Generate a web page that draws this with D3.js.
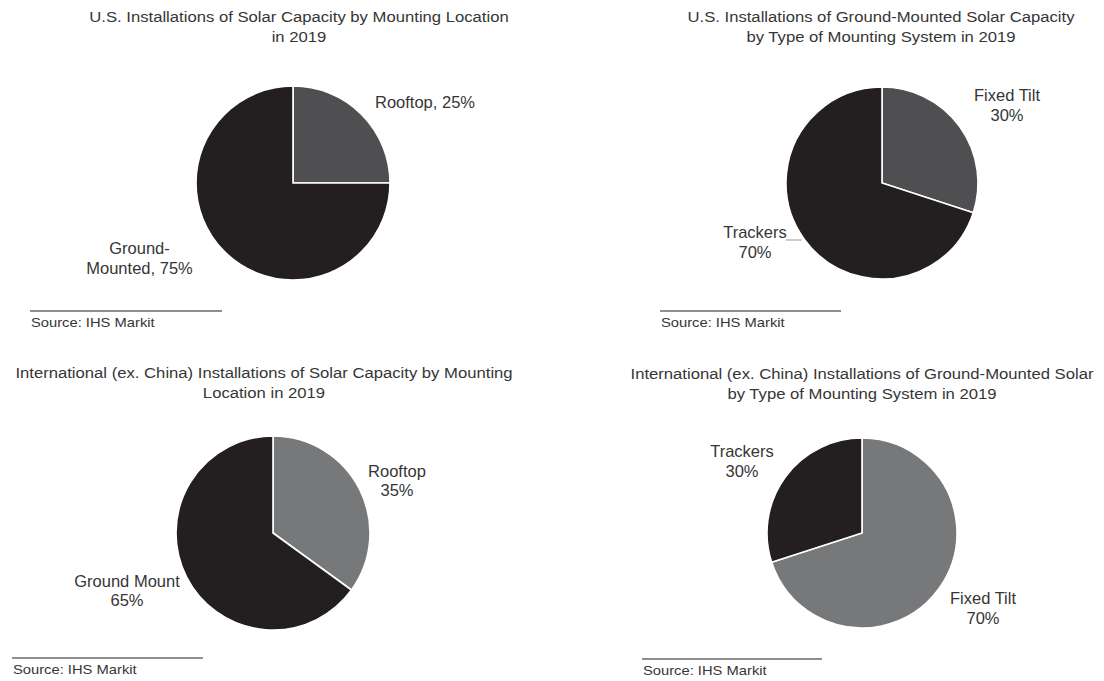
<!DOCTYPE html>
<html>
<head>
<meta charset="utf-8">
<script src="https://cdn.jsdelivr.net/npm/d3@7"></script>
<style>
  body { margin: 0; background: #fff; }
  svg text { font-family: "Liberation Sans", Arial, Helvetica, sans-serif; fill: #363636; }
</style>
</head>
<body>
<div class="graphics"></div>
<script>
// datos de cada pastel
var usLocTitle = ["U.S. Installations of Solar Capacity by Mounting Location", "in 2019"];
var usLocCategories = ["Rooftop", "Ground-\nMounted"];
var usLocValues = [25, 75];

var usTypeTitle = ["U.S. Installations of Ground-Mounted Solar Capacity", "by Type of Mounting System in 2019"];
var usTypeCategories = ["Fixed Tilt", "Trackers"];
var usTypeValues = [30, 70];

var intlLocTitle = ["International (ex. China) Installations of Solar Capacity by Mounting", "Location in 2019"];
var intlLocCategories = ["Rooftop", "Ground Mount"];
var intlLocValues = [35, 65];

var intlTypeTitle = ["International (ex. China) Installations of Ground-Mounted Solar", "by Type of Mounting System in 2019"];
var intlTypeCategories = ["Fixed Tilt", "Trackers"];
var intlTypeValues = [70, 30];

var sourceText = "Source: IHS Markit";

var w = 1104, h = 681;
var black = "#231f20", dark = "#4f4f51", light = "#77787a";

// layout de cada panel (posiciones, no datos)
var panels = [
  {title: usLocTitle, cats: usLocCategories, vals: usLocValues,
   colors: [dark, black], cx: 293, cy: 183, r: 97, titleX: 299, titleY: 21.5,
   fmt: function(c, v){ return (c + ", " + v + "%").split("\n"); },
   labels: [[132, -75.5], [-153.5, 71]], lineGap: 20,
   srcX1: 30, srcX2: 222, srcY: 311},
  {title: usTypeTitle, cats: usTypeCategories, vals: usTypeValues,
   colors: [dark, black], cx: 882, cy: 183, r: 96, titleX: 881, titleY: 21.5,
   fmt: function(c, v){ return [c, v + "%"]; },
   labels: [[125, -82], [-127, 55]], lineGap: 20, leader: 1,
   srcX1: 660, srcX2: 841, srcY: 311},
  {title: intlLocTitle, cats: intlLocCategories, vals: intlLocValues,
   colors: [light, black], cx: 273, cy: 533, r: 97, titleX: 264, titleY: 377.5,
   fmt: function(c, v){ return [c, v + "%"]; },
   labels: [[124, -56], [-146, 54]], lineGap: 19,
   srcX1: 12, srcX2: 203, srcY: 658},
  {title: intlTypeTitle, cats: intlTypeCategories, vals: intlTypeValues,
   colors: [light, black], cx: 862, cy: 533, r: 95, titleX: 862, titleY: 379,
   fmt: function(c, v){ return [c, v + "%"]; },
   labels: [[121, 71], [-120, -76]], lineGap: 20,
   srcX1: 642, srcX2: 822, srcY: 659}
];

var svg = d3.select(".graphics")
  .append("svg")
  .attr("width", w)
  .attr("height", h);

// texto con un poco de estiramiento horizontal como en el original
function stretchedText(g, x, y, txt, size, sx, anchor){
  return g.append("text")
    .attr("transform", "translate(" + x + "," + y + ") scale(" + sx + ",1)")
    .attr("text-anchor", anchor || "middle")
    .style("font-size", size + "px")
    .text(txt);
}

var pie = d3.pie().sort(null).value(function(d){ return d.value; });

panels.forEach(function(p){
  var g = svg.append("g");

  p.title.forEach(function(t, i){
    stretchedText(g, p.titleX, p.titleY + i * 20, t, 14.5, 1.15);
  });

  var data = p.cats.map(function(c, i){ return {name: c, value: p.vals[i]}; });
  var arc = d3.arc().innerRadius(0).outerRadius(p.r);

  var pg = g.append("g").attr("transform", "translate(" + p.cx + "," + p.cy + ")");
  pg.selectAll("path")
    .data(pie(data))
    .enter()
    .append("path")
    .attr("d", arc)
    .attr("fill", function(d, i){ return p.colors[i]; })
    .attr("stroke", "#fff")
    .attr("stroke-width", 1.6)
    .attr("stroke-linejoin", "miter");

  data.forEach(function(d, i){
    var lines = p.fmt(d.name, d.value);
    var off = p.labels[i];
    lines.forEach(function(l, j){
      stretchedText(pg, off[0], off[1] + j * p.lineGap, l, 16.2, 1.02);
    });
  });

  // pequeña línea guía de "Trackers"
  if (p.leader){
    var ly = p.labels[1][1] + 2;
    var edge = -Math.sqrt(p.r * p.r - ly * ly);
    pg.append("line")
      .attr("x1", p.labels[1][0] + 31).attr("x2", edge - 3)
      .attr("y1", ly).attr("y2", ly)
      .attr("stroke", "#9a9a9a").attr("stroke-width", 1);
  }

  g.append("line")
    .attr("x1", p.srcX1).attr("x2", p.srcX2)
    .attr("y1", p.srcY).attr("y2", p.srcY)
    .attr("stroke", "#6a6a6a").attr("stroke-width", 1.3);
  stretchedText(g, p.srcX1 + 1, p.srcY + 15.5, sourceText, 12.5, 1.18, "start");
});
</script>
</body>
</html>
